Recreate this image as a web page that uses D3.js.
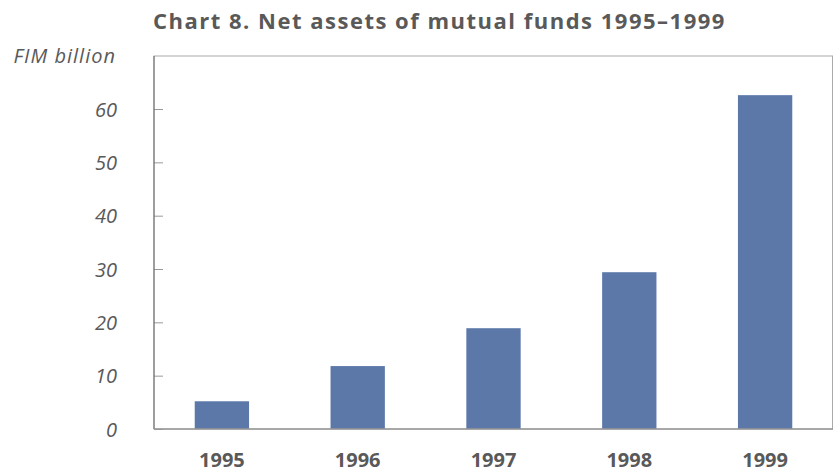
<!DOCTYPE html>
<html lang="en">
<head>
    <meta charset="UTF-8">
    <title>Chart 8. Net assets of mutual funds 1995–1999</title>
    <script src="https://d3js.org/d3.v7.min.js"></script>
    <style>
        body { margin: 0; background: #fff; }
        text { fill: #595959; font-family: "Open Sans", "Noto Sans", sans-serif; }
    </style>
</head>
<body>
<div id="chart"></div>
<script>
const years = ["1995", "1996", "1997", "1998", "1999"];
const netAssets = [5.2, 11.8, 18.9, 29.4, 62.6];
const yTicks = [0, 10, 20, 30, 40, 50, 60];

const width = 834;
const height = 471;
const margin = { top: 56, right: 1, bottom: 42, left: 154 };

const svg = d3.select("#chart")
    .append("svg")
    .attr("width", width)
    .attr("height", height);

const x = d3.scaleBand()
    .domain(years)
    .range([margin.left, width - margin.right])
    .paddingInner(0.6)
    .paddingOuter(0.3);

const y = d3.scaleLinear()
    .domain([0, 70])
    .range([height - margin.bottom, margin.top - 0.3]);

// title
svg.append("text")
    .attr("x", 153)
    .attr("y", 29)
    .style("font-size", "22px")
    .style("font-weight", "bold")
    .style("letter-spacing", "1.5px")
    .text("Chart 8. Net assets of mutual funds 1995–1999");

svg.append("text")
    .attr("x", 116)
    .attr("y", 63)
    .attr("text-anchor", "end")
    .style("font-size", "20px")
    .style("font-style", "italic")
    .style("letter-spacing", "1px")
    .text("FIM billion");

// frame
svg.append("rect")
    .attr("x", margin.left)
    .attr("y", margin.top)
    .attr("width", width - margin.left - margin.right - 0.5)
    .attr("height", y(0) - margin.top)
    .attr("fill", "none")
    .attr("stroke", "#aaa")
    .attr("stroke-width", 1);

// bars
svg.selectAll(".bar")
    .data(netAssets)
    .join("rect")
    .attr("class", "bar")
    .attr("x", (d, i) => x(years[i]))
    .attr("width", x.bandwidth())
    .attr("y", d => y(d))
    .attr("height", d => y(0) - y(d))
    .attr("fill", "#5b78a9");

// y axis
const yAxis = svg.append("g")
    .attr("transform", `translate(${margin.left},0)`)
    .call(d3.axisRight(y).tickValues(yTicks).tickSize(9).tickFormat(""));
yAxis.select(".domain").remove();
yAxis.selectAll(".tick line").attr("stroke", "#999");

svg.append("line")
    .attr("x1", margin.left).attr("x2", margin.left)
    .attr("y1", margin.top).attr("y2", y(0))
    .attr("stroke", "#666");

svg.selectAll(".ylab")
    .data(yTicks)
    .join("text")
    .attr("class", "ylab")
    .attr("x", 117)
    .attr("y", d => y(d) + 7.5)
    .attr("text-anchor", "end")
    .style("font-size", "20px")
    .style("font-style", "italic")
    .text(d => d);

// x axis
svg.append("line")
    .attr("x1", margin.left).attr("x2", width - margin.right)
    .attr("y1", y(0)).attr("y2", y(0))
    .attr("stroke", "#999")
    .attr("stroke-width", 1.5);

svg.selectAll(".xlab")
    .data(years)
    .join("text")
    .attr("class", "xlab")
    .attr("x", d => x(d) + x.bandwidth() / 2)
    .attr("y", 466.5)
    .attr("text-anchor", "middle")
    .style("font-size", "20px")
    .style("font-weight", "bold")
    .text(d => d);
</script>
</body>
</html>
